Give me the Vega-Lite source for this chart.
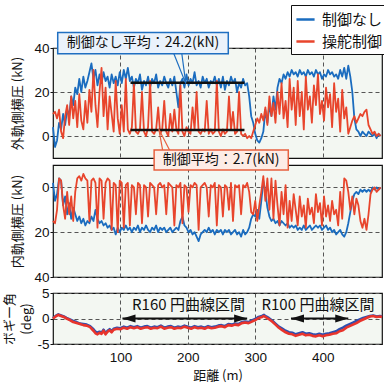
{
"$schema": "https://vega.github.io/schema/vega-lite/v6.json",
"background": "white",
"padding": {"left": 3, "top": 3, "right": 4, "bottom": 2},
"config": {
  "font": "Noto Sans CJK JP",
  "view": {"fill": "#f3f7f2", "stroke": "#111111", "strokeWidth": 1.2},
  "axis": {"domain": false, "labelFont": "Liberation Sans", "labelFontSize": 13.5, "labelColor": "#111111", "tickColor": "#111111", "tickSize": 3, "labelPadding": 1, "titleFont": "Noto Sans CJK JP", "titleFontSize": 13, "titleFontWeight": "normal", "titleColor": "#111111", "gridColor": "#555555", "gridDash": [4, 3], "gridWidth": 1, "gridOpacity": 1}
},
"datasets": {
"top": [
{"d":0,"制御なし":4,"操舵制御":10},{"d":3,"制御なし":-5,"操舵制御":11},{"d":6,"制御なし":-2,"操舵制御":8},{"d":9,"制御なし":6,"操舵制御":12},{"d":12,"制御なし":3,"操舵制御":2},{"d":15,"制御なし":10,"操舵制御":-1},{"d":18,"制御なし":5,"操舵制御":9},{"d":21,"制御なし":12,"操舵制御":14},{"d":24,"制御なし":9,"操舵制御":5},{"d":27,"制御なし":18,"操舵制御":18},
{"d":30,"制御なし":14,"操舵制御":8},{"d":33,"制御なし":22,"操舵制御":16},{"d":36,"制御なし":19,"操舵制御":4},{"d":39,"制御なし":26,"操舵制御":19},{"d":42,"制御なし":20,"操舵制御":7},{"d":45,"制御なし":27,"操舵制御":3},{"d":48,"制御なし":22,"操舵制御":16},{"d":51,"制御なし":25,"操舵制御":6},{"d":54,"制御なし":29,"操舵制御":21},{"d":57,"制御なし":33,"操舵制御":11},
{"d":60,"制御なし":26,"操舵制御":30},{"d":63,"制御なし":30,"操舵制御":14},{"d":66,"制御なし":23,"操舵制御":4},{"d":69,"制御なし":28,"操舵制御":20},{"d":72,"制御なし":24,"操舵制御":31},{"d":75,"制御なし":29,"操舵制御":9},{"d":78,"制御なし":25,"操舵制御":22},{"d":81,"制御なし":27,"操舵制御":3},{"d":84,"制御なし":22,"操舵制御":18},{"d":87,"制御なし":28,"操舵制御":10},
{"d":90,"制御なし":24,"操舵制御":2},{"d":93,"制御なし":27,"操舵制御":25},{"d":96,"制御なし":23,"操舵制御":8},{"d":99,"制御なし":29,"操舵制御":1},{"d":102,"制御なし":24,"操舵制御":14},{"d":105,"制御なし":30,"操舵制御":2},{"d":108,"制御なし":26,"操舵制御":26},{"d":111,"制御なし":31,"操舵制御":3},{"d":114,"制御なし":25,"操舵制御":1},{"d":117,"制御なし":27,"操舵制御":4},
{"d":120,"制御なし":22,"操舵制御":24},{"d":123,"制御なし":26,"操舵制御":2},{"d":126,"制御なし":24,"操舵制御":1},{"d":129,"制御なし":28,"操舵制御":3},{"d":132,"制御なし":21,"操舵制御":20},{"d":135,"制御なし":25,"操舵制御":2},{"d":138,"制御なし":23,"操舵制御":0},{"d":141,"制御なし":27,"操舵制御":4},{"d":144,"制御なし":22,"操舵制御":25},{"d":147,"制御なし":26,"操舵制御":2},
{"d":150,"制御なし":24,"操舵制御":1},{"d":153,"制御なし":28,"操舵制御":3},{"d":156,"制御なし":22,"操舵制御":13},{"d":159,"制御なし":25,"操舵制御":1},{"d":162,"制御なし":23,"操舵制御":3},{"d":165,"制御なし":27,"操舵制御":16},{"d":168,"制御なし":24,"操舵制御":2},{"d":171,"制御なし":22,"操舵制御":0},{"d":174,"制御なし":26,"操舵制御":10},{"d":177,"制御なし":23,"操舵制御":2},
{"d":180,"制御なし":27,"操舵制御":12},{"d":183,"制御なし":20,"操舵制御":3},{"d":186,"制御なし":13,"操舵制御":1},{"d":189,"制御なし":24,"操舵制御":23},{"d":192,"制御なし":26,"操舵制御":2},{"d":195,"制御なし":22,"操舵制御":0},{"d":198,"制御なし":28,"操舵制御":4},{"d":201,"制御なし":23,"操舵制御":2},{"d":204,"制御なし":26,"操舵制御":1},{"d":207,"制御なし":24,"操舵制御":13},
{"d":210,"制御なし":29,"操舵制御":3},{"d":213,"制御なし":23,"操舵制御":20},{"d":216,"制御なし":25,"操舵制御":2},{"d":219,"制御なし":22,"操舵制御":1},{"d":222,"制御なし":27,"操舵制御":3},{"d":225,"制御なし":24,"操舵制御":2},{"d":228,"制御なし":26,"操舵制御":16},{"d":231,"制御なし":22,"操舵制御":1},{"d":234,"制御なし":25,"操舵制御":3},{"d":237,"制御なし":24,"操舵制御":1},
{"d":240,"制御なし":27,"操舵制御":2},{"d":243,"制御なし":23,"操舵制御":25},{"d":246,"制御なし":26,"操舵制御":2},{"d":249,"制御なし":22,"操舵制御":0},{"d":252,"制御なし":27,"操舵制御":3},{"d":255,"制御なし":21,"操舵制御":1},{"d":258,"制御なし":25,"操舵制御":2},{"d":261,"制御なし":23,"操舵制御":18},{"d":264,"制御なし":27,"操舵制御":3},{"d":267,"制御なし":24,"操舵制御":11},
{"d":270,"制御なし":26,"操舵制御":1},{"d":273,"制御なし":20,"操舵制御":2},{"d":276,"制御なし":24,"操舵制御":20},{"d":279,"制御なし":22,"操舵制御":1},{"d":282,"制御なし":26,"操舵制御":0},{"d":285,"制御なし":23,"操舵制御":1},{"d":288,"制御なし":24,"操舵制御":-1},{"d":291,"制御なし":18,"操舵制御":0},{"d":294,"制御なし":9,"操舵制御":-1},{"d":297,"制御なし":6,"操舵制御":2},
{"d":300,"制御なし":1,"操舵制御":5},{"d":303,"制御なし":-2,"操舵制御":8},{"d":306,"制御なし":-3,"操舵制御":6},{"d":309,"制御なし":-1,"操舵制御":10},{"d":312,"制御なし":2,"操舵制御":7},{"d":315,"制御なし":12,"操舵制御":13},{"d":318,"制御なし":6,"操舵制御":5},{"d":321,"制御なし":14,"操舵制御":18},{"d":324,"制御なし":9,"操舵制御":9},{"d":327,"制御なし":18,"操舵制御":15},
{"d":330,"制御なし":12,"操舵制御":6},{"d":333,"制御なし":22,"操舵制御":20},{"d":336,"制御なし":26,"操舵制御":10},{"d":339,"制御なし":24,"操舵制御":24},{"d":342,"制御なし":28,"操舵制御":8},{"d":345,"制御なし":26,"操舵制御":16},{"d":348,"制御なし":29,"操舵制御":4},{"d":351,"制御なし":27,"操舵制御":26},{"d":354,"制御なし":30,"操舵制御":12},{"d":357,"制御なし":28,"操舵制御":22},
{"d":360,"制御なし":29,"操舵制御":5},{"d":363,"制御なし":27,"操舵制御":25},{"d":366,"制御なし":30,"操舵制御":9},{"d":369,"制御なし":28,"操舵制御":20},{"d":372,"制御なし":29,"操舵制御":3},{"d":375,"制御なし":27,"操舵制御":27},{"d":378,"制御なし":30,"操舵制御":12},{"d":381,"制御なし":28,"操舵制御":18},{"d":384,"制御なし":29,"操舵制御":6},{"d":387,"制御なし":27,"操舵制御":23},
{"d":390,"制御なし":30,"操舵制御":14},{"d":393,"制御なし":28,"操舵制御":28},{"d":396,"制御なし":29,"操舵制御":10},{"d":399,"制御なし":26,"操舵制御":16},{"d":402,"制御なし":28,"操舵制御":7},{"d":405,"制御なし":27,"操舵制御":22},{"d":408,"制御なし":30,"操舵制御":13},{"d":411,"制御なし":28,"操舵制御":19},{"d":414,"制御なし":29,"操舵制御":4},{"d":417,"制御なし":27,"操舵制御":24},
{"d":420,"制御なし":28,"操舵制御":11},{"d":423,"制御なし":26,"操舵制御":17},{"d":426,"制御なし":30,"操舵制御":2},{"d":429,"制御なし":27,"操舵制御":21},{"d":432,"制御なし":31,"操舵制御":8},{"d":435,"制御なし":26,"操舵制御":13},{"d":438,"制御なし":32,"操舵制御":1},{"d":441,"制御なし":27,"操舵制御":4},{"d":444,"制御なし":20,"操舵制御":7},{"d":447,"制御なし":8,"操舵制御":9},
{"d":450,"制御なし":3,"操舵制御":6},{"d":453,"制御なし":2,"操舵制御":8},{"d":456,"制御なし":0,"操舵制御":10},{"d":459,"制御なし":2,"操舵制御":9},{"d":462,"制御なし":1,"操舵制御":11},{"d":465,"制御なし":0,"操舵制御":12},{"d":468,"制御なし":2,"操舵制御":5},{"d":471,"制御なし":1,"操舵制御":3},{"d":474,"制御なし":0,"操舵制御":1},{"d":477,"制御なし":1,"操舵制御":2},
{"d":480,"制御なし":-1,"操舵制御":0},{"d":483,"制御なし":1,"操舵制御":1},{"d":486,"制御なし":0,"操舵制御":0}
],
"mid": [
{"d":0,"制御なし":-2,"操舵制御":15},{"d":3,"制御なし":6,"操舵制御":16},{"d":6,"制御なし":3,"操舵制御":10},{"d":9,"制御なし":-4,"操舵制御":-4},{"d":12,"制御なし":-3,"操舵制御":-3},{"d":15,"制御なし":8,"操舵制御":8},{"d":18,"制御なし":4,"操舵制御":14},{"d":21,"制御なし":12,"操舵制御":2},{"d":24,"制御なし":7,"操舵制御":12},{"d":27,"制御なし":14,"操舵制御":4},
{"d":30,"制御なし":9,"操舵制御":15},{"d":33,"制御なし":12,"操舵制御":2},{"d":36,"制御なし":15,"操舵制御":-4},{"d":39,"制御なし":13,"操舵制御":-5},{"d":42,"制御なし":16,"操舵制御":-3},{"d":45,"制御なし":14,"操舵制御":-6},{"d":48,"制御なし":17,"操舵制御":-4},{"d":51,"制御なし":15,"操舵制御":-3},{"d":54,"制御なし":16,"操舵制御":15},{"d":57,"制御なし":13,"操舵制御":-3},
{"d":60,"制御なし":15,"操舵制御":-4},{"d":63,"制御なし":10,"操舵制御":-2},{"d":66,"制御なし":14,"操舵制御":18},{"d":69,"制御なし":16,"操舵制御":-4},{"d":72,"制御なし":15,"操舵制御":-3},{"d":75,"制御なし":17,"操舵制御":14},{"d":78,"制御なし":16,"操舵制御":-2},{"d":81,"制御なし":18,"操舵制御":-4},{"d":84,"制御なし":17,"操舵制御":-3},{"d":87,"制御なし":19,"操舵制御":19},
{"d":90,"制御なし":18,"操舵制御":-2},{"d":93,"制御なし":21,"操舵制御":-1},{"d":96,"制御なし":18,"操舵制御":20},{"d":99,"制御なし":20,"操舵制御":-3},{"d":102,"制御なし":18,"操舵制御":-2},{"d":105,"制御なし":19,"操舵制御":18},{"d":108,"制御なし":17,"操舵制御":-1},{"d":111,"制御なし":19,"操舵制御":-2},{"d":114,"制御なし":18,"操舵制御":17},{"d":117,"制御なし":20,"操舵制御":-1},
{"d":120,"制御なし":18,"操舵制御":0},{"d":123,"制御なし":19,"操舵制御":12},{"d":126,"制御なし":17,"操舵制御":-2},{"d":129,"制御なし":20,"操舵制御":-1},{"d":132,"制御なし":18,"操舵制御":16},{"d":135,"制御なし":19,"操舵制御":-1},{"d":138,"制御なし":17,"操舵制御":0},{"d":141,"制御なし":19,"操舵制御":13},{"d":144,"制御なし":20,"操舵制御":-2},{"d":147,"制御なし":18,"操舵制御":-1},
{"d":150,"制御なし":19,"操舵制御":0},{"d":153,"制御なし":17,"操舵制御":12},{"d":156,"制御なし":20,"操舵制御":-1},{"d":159,"制御なし":18,"操舵制御":-2},{"d":162,"制御なし":19,"操舵制御":0},{"d":165,"制御なし":18,"操舵制御":-1},{"d":168,"制御なし":20,"操舵制御":12},{"d":171,"制御なし":19,"操舵制御":-2},{"d":174,"制御なし":18,"操舵制御":-1},{"d":177,"制御なし":20,"操舵制御":0},
{"d":180,"制御なし":19,"操舵制御":17},{"d":183,"制御なし":18,"操舵制御":-1},{"d":186,"制御なし":19,"操舵制御":0},{"d":189,"制御なし":15,"操舵制御":-2},{"d":192,"制御なし":13,"操舵制御":16},{"d":195,"制御なし":17,"操舵制御":-1},{"d":198,"制御なし":18,"操舵制御":0},{"d":201,"制御なし":20,"操舵制御":11},{"d":204,"制御なし":19,"操舵制御":-1},{"d":207,"制御なし":21,"操舵制御":0},
{"d":210,"制御なし":20,"操舵制御":-2},{"d":213,"制御なし":22,"操舵制御":-1},{"d":216,"制御なし":24,"操舵制御":19},{"d":219,"制御なし":21,"操舵制御":0},{"d":222,"制御なし":20,"操舵制御":-1},{"d":225,"制御なし":19,"操舵制御":-2},{"d":228,"制御なし":20,"操舵制御":0},{"d":231,"制御なし":18,"操舵制御":13},{"d":234,"制御なし":20,"操舵制御":-1},{"d":237,"制御なし":19,"操舵制御":0},
{"d":240,"制御なし":21,"操舵制御":-2},{"d":243,"制御なし":19,"操舵制御":17},{"d":246,"制御なし":20,"操舵制御":-1},{"d":249,"制御なし":19,"操舵制御":0},{"d":252,"制御なし":21,"操舵制御":13},{"d":255,"制御なし":19,"操舵制御":-1},{"d":258,"制御なし":20,"操舵制御":0},{"d":261,"制御なし":19,"操舵制御":10},{"d":264,"制御なし":21,"操舵制御":-2},{"d":267,"制御なし":20,"操舵制御":15},
{"d":270,"制御なし":19,"操舵制御":-1},{"d":273,"制御なし":21,"操舵制御":0},{"d":276,"制御なし":20,"操舵制御":-1},{"d":279,"制御なし":22,"操舵制御":12},{"d":282,"制御なし":19,"操舵制御":-1},{"d":285,"制御なし":21,"操舵制御":0},{"d":288,"制御なし":20,"操舵制御":-2},{"d":291,"制御なし":18,"操舵制御":2},{"d":294,"制御なし":14,"操舵制御":11},{"d":297,"制御なし":12,"操舵制御":12},
{"d":300,"制御なし":13,"操舵制御":6},{"d":303,"制御なし":10,"操舵制御":15},{"d":306,"制御なし":14,"操舵制御":8},{"d":309,"制御なし":6,"操舵制御":2},{"d":312,"制御なし":-3,"操舵制御":-5},{"d":315,"制御なし":2,"操舵制御":6},{"d":318,"制御なし":9,"操舵制御":-4},{"d":321,"制御なし":13,"操舵制御":10},{"d":324,"制御なし":15,"操舵制御":-4},{"d":327,"制御なし":14,"操舵制御":14},
{"d":330,"制御なし":16,"操舵制御":-3},{"d":333,"制御なし":15,"操舵制御":8},{"d":336,"制御なし":17,"操舵制御":17},{"d":339,"制御なし":15,"操舵制御":2},{"d":342,"制御なし":16,"操舵制御":12},{"d":345,"制御なし":17,"操舵制御":-1},{"d":348,"制御なし":16,"操舵制御":18},{"d":351,"制御なし":18,"操舵制御":6},{"d":354,"制御なし":17,"操舵制御":15},{"d":357,"制御なし":18,"操舵制御":3},
{"d":360,"制御なし":17,"操舵制御":10},{"d":363,"制御なし":19,"操舵制御":17},{"d":366,"制御なし":18,"操舵制御":4},{"d":369,"制御なし":19,"操舵制御":13},{"d":372,"制御なし":17,"操舵制御":8},{"d":375,"制御なし":19,"操舵制御":18},{"d":378,"制御なし":18,"操舵制御":5},{"d":381,"制御なし":17,"操舵制御":12},{"d":384,"制御なし":19,"操舵制御":9},{"d":387,"制御なし":18,"操舵制御":16},
{"d":390,"制御なし":17,"操舵制御":3},{"d":393,"制御なし":18,"操舵制御":11},{"d":396,"制御なし":17,"操舵制御":7},{"d":399,"制御なし":19,"操舵制御":17},{"d":402,"制御なし":18,"操舵制御":4},{"d":405,"制御なし":17,"操舵制御":13},{"d":408,"制御なし":19,"操舵制御":8},{"d":411,"制御なし":18,"操舵制御":15},{"d":414,"制御なし":20,"操舵制御":6},{"d":417,"制御なし":19,"操舵制御":12},
{"d":420,"制御なし":21,"操舵制御":10},{"d":423,"制御なし":20,"操舵制御":17},{"d":426,"制御なし":19,"操舵制御":2},{"d":429,"制御なし":21,"操舵制御":14},{"d":432,"制御なし":22,"操舵制御":-4},{"d":435,"制御なし":20,"操舵制御":-3},{"d":438,"制御なし":16,"操舵制御":2},{"d":441,"制御なし":11,"操舵制御":10},{"d":444,"制御なし":6,"操舵制御":4},{"d":447,"制御なし":3,"操舵制御":12},
{"d":450,"制御なし":2,"操舵制御":5},{"d":453,"制御なし":3,"操舵制御":8},{"d":456,"制御なし":1,"操舵制御":15},{"d":459,"制御なし":2,"操舵制御":18},{"d":462,"制御なし":1,"操舵制御":14},{"d":465,"制御なし":2,"操舵制御":19},{"d":468,"制御なし":1,"操舵制御":12},{"d":471,"制御なし":2,"操舵制御":3},{"d":474,"制御なし":0,"操舵制御":1},{"d":477,"制御なし":1,"操舵制御":0},
{"d":480,"制御なし":0,"操舵制御":2},{"d":483,"制御なし":1,"操舵制御":1},{"d":486,"制御なし":0,"操舵制御":0}
],
"bog": [
{"d":0,"制御なし":0.1,"操舵制御":0},{"d":4,"制御なし":0.5,"操舵制御":0.4},{"d":8,"制御なし":0.8,"操舵制御":0.7},{"d":12,"制御なし":0.6,"操舵制御":0.5},{"d":16,"制御なし":0.4,"操舵制御":0.3},{"d":20,"制御なし":0.1,"操舵制御":0},{"d":25,"制御なし":-0.2,"操舵制御":-0.3},{"d":30,"制御なし":-0.5,"操舵制御":-0.7},{"d":35,"制御なし":-0.7,"操舵制御":-0.9},{"d":40,"制御なし":-1.0,"操舵制御":-1.1},
{"d":45,"制御なし":-1.1,"操舵制御":-1.3},{"d":50,"制御なし":-1.2,"操舵制御":-1.4},{"d":55,"制御なし":-1.5,"操舵制御":-1.7},{"d":60,"制御なし":-2.1,"操舵制御":-2.4},{"d":63,"制御なし":-2.6,"操舵制御":-2.9},{"d":66,"制御なし":-2.8,"操舵制御":-3.1},{"d":69,"制御なし":-2.6,"操舵制御":-2.8},{"d":72,"制御なし":-2.8,"操舵制御":-3.0},{"d":75,"制御なし":-2.2,"操舵制御":-2.4},{"d":78,"制御なし":-2.9,"操舵制御":-3.1},
{"d":81,"制御なし":-2.4,"操舵制御":-2.6},{"d":84,"制御なし":-2.1,"操舵制御":-2.3},{"d":87,"制御なし":-2.5,"操舵制御":-2.7},{"d":90,"制御なし":-2.0,"操舵制御":-2.2},{"d":95,"制御なし":-1.8,"操舵制御":-2.0},{"d":100,"制御なし":-1.9,"操舵制御":-2.1},{"d":105,"制御なし":-1.6,"操舵制御":-1.8},{"d":110,"制御なし":-1.8,"操舵制御":-2.0},{"d":115,"制御なし":-1.5,"操舵制御":-1.7},{"d":120,"制御なし":-1.7,"操舵制御":-1.9},
{"d":125,"制御なし":-1.5,"操舵制御":-1.7},{"d":130,"制御なし":-1.8,"操舵制御":-2.0},{"d":135,"制御なし":-1.6,"操舵制御":-1.8},{"d":140,"制御なし":-1.5,"操舵制御":-1.7},{"d":145,"制御なし":-1.8,"操舵制御":-2.0},{"d":150,"制御なし":-1.6,"操舵制御":-1.8},{"d":155,"制御なし":-1.7,"操舵制御":-1.9},{"d":160,"制御なし":-1.4,"操舵制御":-1.6},{"d":165,"制御なし":-1.8,"操舵制御":-2.0},{"d":170,"制御なし":-1.6,"操舵制御":-1.8},
{"d":175,"制御なし":-1.5,"操舵制御":-1.7},{"d":180,"制御なし":-1.8,"操舵制御":-2.0},{"d":185,"制御なし":-1.6,"操舵制御":-1.8},{"d":190,"制御なし":-1.7,"操舵制御":-1.9},{"d":195,"制御なし":-1.4,"操舵制御":-1.6},{"d":200,"制御なし":-1.6,"操舵制御":-1.8},{"d":205,"制御なし":-1.8,"操舵制御":-2.0},{"d":210,"制御なし":-1.5,"操舵制御":-1.7},{"d":215,"制御なし":-1.7,"操舵制御":-1.9},{"d":220,"制御なし":-1.6,"操舵制御":-1.8},
{"d":225,"制御なし":-1.8,"操舵制御":-2.0},{"d":230,"制御なし":-1.5,"操舵制御":-1.7},{"d":235,"制御なし":-1.7,"操舵制御":-1.9},{"d":240,"制御なし":-1.6,"操舵制御":-1.8},{"d":245,"制御なし":-1.4,"操舵制御":-1.6},{"d":250,"制御なし":-1.3,"操舵制御":-1.5},{"d":255,"制御なし":-1.5,"操舵制御":-1.7},{"d":260,"制御なし":-1.1,"操舵制御":-1.3},{"d":265,"制御なし":-1.2,"操舵制御":-1.4},{"d":270,"制御なし":-1.0,"操舵制御":-1.2},
{"d":275,"制御なし":-1.1,"操舵制御":-1.3},{"d":280,"制御なし":-0.7,"操舵制御":-0.9},{"d":285,"制御なし":-0.6,"操舵制御":-0.8},{"d":290,"制御なし":-0.7,"操舵制御":-0.9},{"d":295,"制御なし":-0.4,"操舵制御":-0.6},{"d":300,"制御なし":-0.1,"操舵制御":-0.3},{"d":305,"制御なし":0.3,"操舵制御":0.1},{"d":310,"制御なし":0.5,"操舵制御":0.3},{"d":313,"制御なし":0.7,"操舵制御":0.5},{"d":316,"制御なし":0.4,"操舵制御":0.2},
{"d":320,"制御なし":0.1,"操舵制御":-0.1},{"d":325,"制御なし":-0.4,"操舵制御":-0.6},{"d":330,"制御なし":-1.0,"操舵制御":-1.2},{"d":335,"制御なし":-1.6,"操舵制御":-1.8},{"d":340,"制御なし":-2.0,"操舵制御":-2.3},{"d":345,"制御なし":-2.4,"操舵制御":-2.7},{"d":350,"制御なし":-2.7,"操舵制御":-3.0},{"d":355,"制御なし":-2.8,"操舵制御":-3.1},{"d":360,"制御なし":-3.1,"操舵制御":-3.4},{"d":365,"制御なし":-2.9,"操舵制御":-3.2},
{"d":370,"制御なし":-2.7,"操舵制御":-3.0},{"d":375,"制御なし":-3.0,"操舵制御":-3.3},{"d":380,"制御なし":-2.9,"操舵制御":-3.2},{"d":385,"制御なし":-3.1,"操舵制御":-3.4},{"d":390,"制御なし":-3.2,"操舵制御":-3.5},{"d":395,"制御なし":-3.0,"操舵制御":-3.3},{"d":400,"制御なし":-3.2,"操舵制御":-3.5},{"d":405,"制御なし":-3.0,"操舵制御":-3.3},{"d":410,"制御なし":-2.9,"操舵制御":-3.2},{"d":415,"制御なし":-2.7,"操舵制御":-3.0},
{"d":420,"制御なし":-2.5,"操舵制御":-2.9},{"d":425,"制御なし":-2.1,"操舵制御":-2.5},{"d":430,"制御なし":-1.8,"操舵制御":-2.3},{"d":435,"制御なし":-1.4,"操舵制御":-1.8},{"d":440,"制御なし":-1.1,"操舵制御":-1.5},{"d":445,"制御なし":-0.8,"操舵制御":-1.2},{"d":450,"制御なし":-0.5,"操舵制御":-0.9},{"d":455,"制御なし":-0.2,"操舵制御":-0.5},{"d":460,"制御なし":0.1,"操舵制御":-0.2},{"d":465,"制御なし":0.3,"操舵制御":0.1},
{"d":470,"制御なし":0.5,"操舵制御":0.4},{"d":475,"制御なし":0.6,"操舵制御":0.5},{"d":480,"制御なし":0.4,"操舵制御":0.3},{"d":485,"制御なし":0.5,"操舵制御":0.4},{"d":488,"制御なし":0.4,"操舵制御":0.3}
]
},
"spacing": 7,
"bounds": "flush",
"resolve": {"scale": {"color": "independent"}, "legend": {"color": "independent"}},
"vconcat": [
{
"width": 329, "height": 110,
"data": {"name": "top"},
"encoding": {
  "x": {"field": "d", "type": "quantitative", "scale": {"domain": [0, 488], "nice": false, "zero": false}, "axis": {"values": [100, 200, 300, 400], "labels": false, "ticks": false, "title": null, "grid": true}},
  "y": {"field": "v", "type": "quantitative", "scale": {"domain": [-10, 40], "nice": false, "zero": false}, "axis": {"values": [0, 20, 40], "title": "外軌側横圧 (kN)", "titlePadding": 9, "grid": true}}
},
"layer": [
  {"transform": [{"fold": ["制御なし", "操舵制御"], "as": ["s", "v"]}],
   "mark": {"type": "line", "strokeWidth": 1.8, "strokeJoin": "round"},
   "encoding": {"color": {"field": "s", "type": "nominal", "scale": {"domain": ["制御なし", "操舵制御"], "range": ["#1a6cbf", "#e8452c"]},
     "legend": {"orient": "none", "legendX": 238, "legendY": -43, "title": null, "symbolType": "stroke", "symbolSize": 330, "symbolStrokeWidth": 2.5, "labelFont": "Noto Sans CJK JP", "labelFontSize": 15, "labelColor": "#111111", "labelOffset": 6, "rowPadding": 3, "padding": 4, "strokeColor": "#111111", "fillColor": "white", "cornerRadius": 0}}}},
  {"data": {"values": [{"d": 115, "d2": 284, "v": 24.2}, {"d": 115, "d2": 284, "v": 2.7}]},
   "mark": {"type": "rule", "strokeWidth": 2.5, "color": "#111111"},
   "encoding": {"x2": {"field": "d2"}}},
  {"data": {"values": [{"d": 179, "v": 37.6, "o": 1}, {"d": 197, "v": 23.8, "o": 2}, {"d": 191, "v": 37.6, "o": 3}]},
   "mark": {"type": "line", "color": "#1f6fc1", "strokeWidth": 1.2},
   "encoding": {"order": {"field": "o", "type": "quantitative"}}},
  {"data": {"values": [{"d": 7, "d2": 260, "v": 47, "v2": 37.4}]},
   "mark": {"type": "rect", "fill": "#eaf2fb", "stroke": "#1f6fc1", "strokeWidth": 1.5},
   "encoding": {"x2": {"field": "d2"}, "y2": {"field": "v2"}}},
  {"data": {"values": [{"d": 133.5, "v": 42.2, "t": "制御なし平均：24.2(kN)"}]},
   "mark": {"type": "text", "font": "Noto Sans CJK JP", "fontSize": 14, "color": "#111111", "align": "center", "baseline": "middle"},
   "encoding": {"text": {"field": "t"}}}
]
},
{
"width": 329, "height": 112,
"data": {"name": "mid"},
"encoding": {
  "x": {"field": "d", "type": "quantitative", "scale": {"domain": [0, 488], "nice": false, "zero": false}, "axis": {"values": [100, 200, 300, 400], "labels": false, "ticks": false, "title": null, "grid": true}},
  "y": {"field": "v", "type": "quantitative", "scale": {"domain": [-10, 40], "nice": false, "zero": false, "reverse": true}, "axis": {"values": [0, 20, 40], "title": "内軌側横圧 (kN)", "titlePadding": 9, "grid": true}}
},
"layer": [
  {"transform": [{"fold": ["制御なし", "操舵制御"], "as": ["s", "v"]}],
   "mark": {"type": "line", "strokeWidth": 1.8, "strokeJoin": "round"},
   "encoding": {"color": {"field": "s", "type": "nominal", "scale": {"domain": ["制御なし", "操舵制御"], "range": ["#1a6cbf", "#e8452c"]}, "legend": null}}},
  {"data": {"values": [{"d": 163, "v": -16, "o": 1}, {"d": 157, "v": -26, "o": 2}, {"d": 174, "v": -16, "o": 3}]},
   "mark": {"type": "line", "color": "#e8603f", "strokeWidth": 1.2},
   "encoding": {"order": {"field": "o", "type": "quantitative"}}},
  {"data": {"values": [{"d": 150, "d2": 349, "v": -16.7, "v2": -7.8}]},
   "mark": {"type": "rect", "fill": "#fdece6", "stroke": "#e8603f", "strokeWidth": 1.5},
   "encoding": {"x2": {"field": "d2"}, "y2": {"field": "v2"}}},
  {"data": {"values": [{"d": 249.5, "v": -12.25, "t": "制御平均：2.7(kN)"}]},
   "mark": {"type": "text", "font": "Noto Sans CJK JP", "fontSize": 14, "color": "#111111", "align": "center", "baseline": "middle"},
   "encoding": {"text": {"field": "t"}}}
]
},
{
"width": 329, "height": 2,
"view": {"stroke": null, "fill": null},
"data": {"values": []},
"mark": "point"
},
{
"width": 329, "height": 51,
"data": {"name": "bog"},
"encoding": {
  "x": {"field": "d", "type": "quantitative", "scale": {"domain": [0, 488], "nice": false, "zero": false}, "axis": {"values": [100, 200, 300, 400], "ticks": false, "labelPadding": 6, "title": "距離 (m)", "titlePadding": 6, "grid": true}},
  "y": {"field": "v", "type": "quantitative", "scale": {"domain": [-5, 5], "nice": false, "zero": false}, "axis": {"values": [-5, 0, 5], "labelExpr": "'' + datum.value", "title": ["ボギー角", "(deg)"], "titleLineHeight": 17, "titlePadding": 3, "grid": true}}
},
"layer": [
  {"transform": [{"fold": ["制御なし", "操舵制御"], "as": ["s", "v"]}],
   "mark": {"type": "line", "strokeWidth": 2.6, "strokeJoin": "round"},
   "encoding": {"color": {"field": "s", "type": "nominal", "scale": {"domain": ["制御なし", "操舵制御"], "range": ["#2c4fb0", "#e8342c"]}, "legend": null}}},
  {"data": {"values": [{"d": 103, "d2": 288, "v": 0}, {"d": 353, "d2": 438, "v": 0}]},
   "mark": {"type": "rule", "strokeWidth": 1.8, "color": "#111111"},
   "encoding": {"x2": {"field": "d2"}}},
  {"data": {"values": [{"d": 112.7, "v": 0, "sh": "M-1,0L1,-0.6L1,0.6Z"}, {"d": 278.3, "v": 0, "sh": "M1,0L-1,-0.6L-1,0.6Z"}, {"d": 362.7, "v": 0, "sh": "M-1,0L1,-0.6L1,0.6Z"}, {"d": 428.3, "v": 0, "sh": "M1,0L-1,-0.6L-1,0.6Z"}]},
   "mark": {"type": "point", "filled": true, "size": 169, "color": "#111111", "opacity": 1},
   "encoding": {"shape": {"field": "sh", "type": "nominal", "scale": null}}},
  {"data": {"values": [{"d": 201, "v": 2.7, "t": "R160 円曲線区間"}, {"d": 393, "v": 2.7, "t": "R100 円曲線区間"}]},
   "mark": {"type": "text", "font": "Noto Sans CJK JP", "fontSize": 15, "color": "#111111", "align": "center", "baseline": "middle"},
   "encoding": {"text": {"field": "t"}}}
]
}
]
}
